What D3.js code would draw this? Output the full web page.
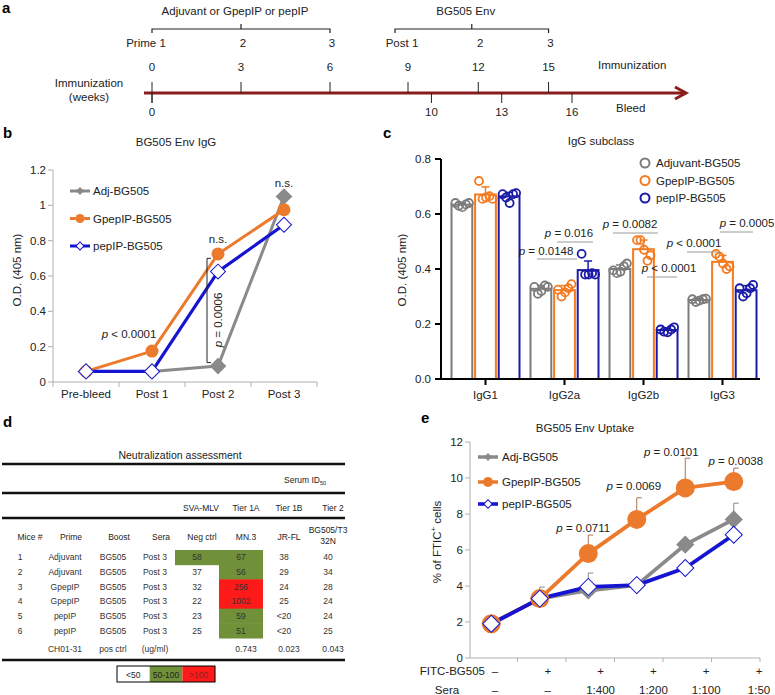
<!DOCTYPE html>
<html><head><meta charset="utf-8">
<script src="https://cdn.jsdelivr.net/npm/d3@7"></script>
<style>body{margin:0;background:#fff}svg{font-family:"Liberation Sans",Arial,Helvetica,sans-serif}</style>
</head><body><svg id="fig" width="775" height="695"></svg>
<script>
// ---------- Panel a data ----------
const immWeeks = [0, 3, 6, 9, 12, 15];
const bleedWeeks = [0, 10, 13, 16];
const primeLabels = ["Prime 1", "2", "3"];
const postLabels = ["Post 1", "2", "3"];
// ---------- Panel b data ----------
const bCats = ["Pre-bleed", "Post 1", "Post 2", "Post 3"];
const bSeries = ["Adj-BG505", "GpepIP-BG505", "pepIP-BG505"];
const bAdj = [0.06, 0.06, 0.09, 1.05];
const bGpep = [0.06, 0.175, 0.725, 0.975];
const bPep = [0.06, 0.06, 0.625, 0.89];
const bTicks = [0, 0.2, 0.4, 0.6, 0.8, 1, 1.2];
const bTickLabels = ["0", "0.2", "0.4", "0.6", "0.8", "1", "1.2"];
// ---------- Panel c data ----------
const cCats = ["IgG1", "IgG2a", "IgG2b", "IgG3"];
const cGroups = ["Adjuvant-BG505", "GpepIP-BG505", "pepIP-BG505"];
const cAdjPts = [[0.64,0.63,0.625,0.635,0.64],[0.335,0.31,0.32,0.34,0.335],[0.395,0.385,0.39,0.41,0.42],[0.29,0.28,0.285,0.29,0.292]];
const cGpepPts = [[0.72,0.655,0.66,0.665,0.655],[0.325,0.3,0.315,0.33,0.345],[0.505,0.505,0.47,0.43,0.45],[0.455,0.445,0.42,0.40,0.41]];
const cPepPts = [[0.672,0.66,0.64,0.672,0.676],[0.455,0.38,0.38,0.385,0.38],[0.18,0.172,0.17,0.18,0.188],[0.33,0.30,0.312,0.33,0.342]];
const cTicks = [0, 0.2, 0.4, 0.6, 0.8];
const cPvals = ["p = 0.016", "p = 0.0148", "p = 0.0082", "p < 0.0001", "p < 0.0001", "p = 0.0005"];
// ---------- Panel d data ----------
const dMice = ["1","2","3","4","5","6"];
const dPrime = ["Adjuvant","Adjuvant","GpepIP","GpepIP","pepIP","pepIP"];
const dBoost = ["BG505","BG505","BG505","BG505","BG505","BG505"];
const dSera = ["Post 3","Post 3","Post 3","Post 3","Post 3","Post 3"];
const dNeg = [58, 37, 32, 22, 23, 25];
const dMN3 = [67, 56, 256, 1002, 59, 51];
const dJRFL = ["38","29","24","25","<20","<20"];
const dTier2 = [40, 34, 28, 24, 24, 25];
const dPos = ["", "CH01-31", "pos ctrl", "(ug/ml)", "", "0.743", "0.023", "0.043"];
const dTiers = ["SVA-MLV", "Tier 1A", "Tier 1B", "Tier 2"];
const dHeaders = ["Mice #", "Prime", "Boost", "Sera", "Neg ctrl", "MN.3", "JR-FL", "BG505/T3|32N"];
const dLegend = ["<50", "50-100", ">100"];
// ---------- Panel e data ----------
const eSeries = ["Adj-BG505", "GpepIP-BG505", "pepIP-BG505"];
const eAdj = [1.9, 3.3, 3.75, 4.05, 6.3, 7.7];
const eGpep = [1.9, 3.3, 5.8, 7.7, 9.45, 9.8];
const ePep = [1.9, 3.3, 3.95, 4.05, 5.0, 6.85];
const eAdjErr = [0, 0.64, 0.97, 0, 0, 0.9];
const eGpepErr = [0, 0, 1.03, 1.2, 1.65, 0.75];
const ePvals = ["", "", "p = 0.0711", "p = 0.0069", "p = 0.0101", "p = 0.0038"];
const eFitc = ["\u2013", "+", "+", "+", "+", "+"];
const eSera = ["\u2013", "\u2013", "1:400", "1:200", "1:100", "1:50"];
const eTicks = [0, 2, 4, 6, 8, 10, 12];

// ---------- colours ----------
const GRAY = "#8a8a8a", ORANGE = "#ec7a2c", BLUE = "#1414d2";
const CGRAY = "#7c7c7c", CORANGE = "#f47b20", CBLUE = "#1a1aa8";
const AXG = "#b0b0b0";
const FS = 11.5;

const svg = d3.select("#fig");
const txt = (g, x, y, s, o = {}) => g.append("text").attr("x", x).attr("y", y)
  .attr("font-size", o.fs || FS).attr("text-anchor", o.anchor || "middle")
  .attr("fill", o.fill || "#222").attr("font-weight", o.fw || null).text(s);
function pText(g, x, y, s, anchor = "middle", fs = FS) {
  const t = g.append("text").attr("x", x).attr("y", y).attr("font-size", fs)
    .attr("text-anchor", anchor).attr("fill", "#222");
  t.append("tspan").attr("font-style", "italic").text(s.slice(0, 1));
  t.append("tspan").text(s.slice(1));
  return t;
}
const diamond = s => d3.symbol(d3.symbolSquare, s)();

// panel letters
[["a", 2, 13], ["b", 3, 138], ["c", 383, 138], ["d", 3, 427], ["e", 421, 423]].forEach(([l, x, y]) =>
  txt(svg, x, y, l, { fs: 15, fw: "bold", anchor: "start", fill: "#000" }));

// ================= Panel a =================
(function () {
  const g = svg.append("g");
  const x = d3.scaleLinear().domain([0, 6, 9, 16]).range([152, 330, 408, 572]);
  const lineY = 93, red = "#8b1c1c";
  g.append("line").attr("x1", 144).attr("x2", 683).attr("y1", lineY).attr("y2", lineY)
    .attr("stroke", red).attr("stroke-width", 3);
  g.append("path").attr("d", `M675,87 L686,${lineY} L675,99`).attr("fill", "none")
    .attr("stroke", red).attr("stroke-width", 3).attr("stroke-linejoin", "miter");
  immWeeks.forEach(w => {
    g.append("line").attr("x1", x(w)).attr("x2", x(w)).attr("y1", 82).attr("y2", w === 0 ? 103 : lineY)
      .attr("stroke", "#222").attr("stroke-width", 1);
    txt(g, x(w), 71, w);
  });
  bleedWeeks.forEach(w => {
    g.append("line").attr("x1", x(w)).attr("x2", x(w)).attr("y1", lineY).attr("y2", 103)
      .attr("stroke", "#222").attr("stroke-width", 1);
    txt(g, x(w), 116, w);
  });
  txt(g, 89, 87, "Immunization");
  txt(g, 89, 101, "(weeks)");
  txt(g, 598, 69, "Immunization", { anchor: "start" });
  txt(g, 616, 112, "Bleed", { anchor: "start" });
  // brackets
  function bracket(x1, x2, label, labels, weeks) {
    const xm = (x1 + x2) / 2;
    g.append("path").attr("d", `M${x1},33 L${x1},29 L${x2},29 L${x2},33 M${xm},29 L${xm},24`)
      .attr("fill", "none").attr("stroke", "#222").attr("stroke-width", 1.2);
    txt(g, xm - 6, 15, label);
    labels.forEach((l, i) => txt(g, x(weeks[i]) + (i === 0 ? -6 : 2), 47, l));
  }
  bracket(x(0), x(6), "Adjuvant or GpepIP or pepIP", primeLabels, [0, 3, 6]);
  bracket(x(9) - 13, x(15), "BG505 Env", postLabels, [9, 12, 15]);
})();

// ================= Panel b =================
(function () {
  const g = svg.append("g");
  const x = d3.scaleBand().domain(bCats).range([53, 317]);
  const y = d3.scaleLinear().domain([0, 1.2]).range([382, 170]);
  txt(g, 176, 146, "BG505 Env IgG");
  // axes
  g.append("line").attr("x1", 53).attr("x2", 53).attr("y1", y(1.2)).attr("y2", y(0)).attr("stroke", AXG);
  g.append("line").attr("x1", 53).attr("x2", 317).attr("y1", y(0)).attr("y2", y(0)).attr("stroke", AXG);
  bTicks.forEach((t, i) => {
    g.append("line").attr("x1", 48).attr("x2", 53).attr("y1", y(t)).attr("y2", y(t)).attr("stroke", AXG);
    txt(g, 46, y(t) + 4, bTickLabels[i], { anchor: "end" });
  });
  bCats.forEach(c => {
    g.append("line").attr("x1", x(c) + x.bandwidth()).attr("x2", x(c) + x.bandwidth())
      .attr("y1", y(0)).attr("y2", y(0) + 5).attr("stroke", AXG);
    txt(g, x(c) + x.bandwidth() / 2, 398, c);
  });
  g.append("line").attr("x1", 53).attr("x2", 53).attr("y1", y(0)).attr("y2", y(0) + 5).attr("stroke", AXG);
  txt(g, 0, 0, "O.D. (405 nm)").attr("transform", "translate(21,270) rotate(-90)").attr("x", null).attr("y", null);
  const cx = c => x(c) + x.bandwidth() / 2;
  const line = d3.line().x((d, i) => cx(bCats[i])).y(d => y(d));
  const series = [
    { v: bAdj, col: GRAY, w: 3 }, { v: bGpep, col: ORANGE, w: 3 }, { v: bPep, col: BLUE, w: 3.2 }];
  series.forEach(s => g.append("path").attr("d", line(s.v)).attr("fill", "none")
    .attr("stroke", s.col).attr("stroke-width", s.w).attr("stroke-linejoin", "round"));
  bAdj.forEach((v, i) => g.append("path").attr("d", diamond(140))
    .attr("transform", `translate(${cx(bCats[i])},${y(v)}) rotate(45)`).attr("fill", GRAY));
  bGpep.forEach((v, i) => g.append("circle").attr("cx", cx(bCats[i])).attr("cy", y(v)).attr("r", 6.5).attr("fill", ORANGE));
  bPep.forEach((v, i) => g.append("path").attr("d", diamond(112))
    .attr("transform", `translate(${cx(bCats[i])},${y(v)}) rotate(45)`).attr("fill", "#fff")
    .attr("stroke", BLUE).attr("stroke-width", 1));
  // legend
  const lg = [[GRAY, "d"], [ORANGE, "c"], [BLUE, "w"]];
  bSeries.forEach((s, i) => {
    const ly = 191 + i * 27.5;
    g.append("line").attr("x1", 70).attr("x2", 90).attr("y1", ly).attr("y2", ly)
      .attr("stroke", lg[i][0]).attr("stroke-width", 3);
    if (lg[i][1] === "d") g.append("path").attr("d", diamond(32)).attr("transform", `translate(80,${ly}) rotate(45)`).attr("fill", GRAY);
    if (lg[i][1] === "c") g.append("circle").attr("cx", 80).attr("cy", ly).attr("r", 4.5).attr("fill", ORANGE);
    if (lg[i][1] === "w") g.append("path").attr("d", diamond(32)).attr("transform", `translate(80,${ly}) rotate(45)`)
      .attr("fill", "#fff").attr("stroke", BLUE).attr("stroke-width", 1);
    txt(g, 93, ly + 4, s, { anchor: "start" });
  });
  // annotations
  txt(g, cx("Post 3"), 187, "n.s.");
  txt(g, cx("Post 2"), 243, "n.s.");
  pText(g, cx("Post 1") - 23, 338, "p < 0.0001");
  const bx = cx("Post 2") - 11;
  g.append("path").attr("d", `M${bx + 4},${y(0.7)} L${bx},${y(0.7)} L${bx},${y(0.11)} L${bx + 4},${y(0.11)}`)
    .attr("fill", "none").attr("stroke", "#222").attr("stroke-width", 1);
  pText(g, 0, 0, "p = 0.0006").attr("x", null).attr("y", null)
    .attr("transform", `translate(${cx("Post 2") + 4},320) rotate(-90)`);
})();

// ================= Panel c =================
(function () {
  const g = svg.append("g");
  const x = d3.scaleBand().domain(cCats).range([446, 762]);
  const sub = d3.scaleBand().domain(cGroups).range([-34, 34]).paddingInner(0.12);
  const y = d3.scaleLinear().domain([0, 0.8]).range([379, 159]);
  txt(g, 601, 145, "IgG subclass");
  const groups = [{ pts: cAdjPts, col: CGRAY }, { pts: cGpepPts, col: CORANGE }, { pts: cPepPts, col: CBLUE }];
  const jit = [-6.5, -3, 0.5, 4, 7];
  cCats.forEach((c, ci) => {
    const xc = x(c) + x.bandwidth() / 2;
    groups.forEach((gr, gi) => {
      const pts = gr.pts[ci];
      const m = d3.mean(pts), sd = d3.deviation(pts);
      const bx = xc + sub(cGroups[gi]);
      const bw = sub.bandwidth();
      g.append("rect").attr("x", bx).attr("y", y(m)).attr("width", bw).attr("height", y(0) - y(m))
        .attr("fill", "#fff").attr("stroke", gr.col).attr("stroke-width", 2);
      g.append("line").attr("x1", bx + bw / 2).attr("x2", bx + bw / 2).attr("y1", y(m)).attr("y2", y(m + sd))
        .attr("stroke", gr.col).attr("stroke-width", 1.5);
      g.append("line").attr("x1", bx + bw / 2 - 4).attr("x2", bx + bw / 2 + 4).attr("y1", y(m + sd)).attr("y2", y(m + sd))
        .attr("stroke", gr.col).attr("stroke-width", 1.5);
      pts.forEach((p, pi) => g.append("circle").attr("cx", bx + bw / 2 + jit[pi]).attr("cy", y(p)).attr("r", 4)
        .attr("fill", "none").attr("stroke", gr.col).attr("stroke-width", 1.8));
    });
  });
  // axes
  g.append("line").attr("x1", 441).attr("x2", 441).attr("y1", y(0.8)).attr("y2", y(0)).attr("stroke", "#000").attr("stroke-width", 2);
  g.append("line").attr("x1", 440).attr("x2", 760).attr("y1", y(0)).attr("y2", y(0)).attr("stroke", "#000").attr("stroke-width", 2);
  cTicks.forEach(t => {
    g.append("line").attr("x1", 435).attr("x2", 441).attr("y1", y(t)).attr("y2", y(t)).attr("stroke", "#000").attr("stroke-width", 2);
    txt(g, 431, y(t) + 4, d3.format(".1f")(t), { anchor: "end" });
  });
  cCats.forEach(c => {
    const xc = x(c) + x.bandwidth() / 2;
    g.append("line").attr("x1", xc).attr("x2", xc).attr("y1", y(0)).attr("y2", y(0) + 6).attr("stroke", "#000").attr("stroke-width", 2);
    txt(g, xc, 399, c);
  });
  txt(g, 0, 0, "O.D. (405 nm)").attr("x", null).attr("y", null).attr("transform", "translate(406,270) rotate(-90)");
  // legend
  cGroups.forEach((s, i) => {
    const ly = 163 + i * 17.5;
    g.append("circle").attr("cx", 645).attr("cy", ly).attr("r", 4.5).attr("fill", "none")
      .attr("stroke", groups[i].col).attr("stroke-width", 2);
    txt(g, 656, ly + 4, s, { anchor: "start" });
  });
  // p-values: [text x center, baseline, line x1, x2, line y]
  const pl = [[569, 237, 557, 593, 242], [546, 255, 537, 577, 259], [630, 228, 613, 658, 233],
              [669, 272, 647, 677, 277], [694, 247, 687, 718, 252], [747, 227, 720, 753, 232]];
  cPvals.forEach((p, i) => {
    const [tx, ty, x1, x2, ly] = pl[i];
    g.append("line").attr("x1", x1).attr("x2", x2).attr("y1", ly).attr("y2", ly).attr("stroke", "#999").attr("stroke-width", 1);
    pText(g, tx, ty, p);
  });
})();

// ================= Panel d =================
(function () {
  const g = svg.append("g");
  const FSD = 8.5;
  const cols = [20, 65, 113, 155, 197, 241, 284, 328];
  txt(g, 180, 459, "Neutralization assessment", { fs: 10.5 });
  [464, 493, 518, 660].forEach(yy => g.append("line").attr("x1", 2).attr("x2", 345).attr("y1", yy).attr("y2", yy)
    .attr("stroke", "#111").attr("stroke-width", 2.5));
  const sid = g.append("text").attr("x", 305).attr("y", 483).attr("font-size", FSD).attr("text-anchor", "middle").attr("fill", "#222");
  sid.append("tspan").text("Serum ID");
  sid.append("tspan").attr("font-size", 5.5).attr("dy", 2).text("50");
  dTiers.forEach((t, i) => txt(g, cols[i + 4] + (i === 0 ? 4 : 5), 511, t, { fs: FSD }));
  dHeaders.forEach((h, i) => {
    const parts = h.split("|");
    if (parts.length === 1) txt(g, cols[i] + (i === 0 ? 10 : i < 4 ? 6 : 5), 540, h, { fs: FSD });
    else { txt(g, cols[i], 533, parts[0], { fs: FSD }); txt(g, cols[i], 544, parts[1], { fs: FSD }); }
  });
  const rowY = d3.scaleBand().domain(dMice).range([550, 638]);
  const colW = 44;
  const fillFor = v => (typeof v === "number" && v >= 50) ? (v > 100 ? "#ff1a1a" : "#71903a") : null;
  dMice.forEach((m, r) => {
    const yy = rowY(m), h = rowY.bandwidth(), yc = yy + h / 2 + 3;
    const vals = [m, dPrime[r], dBoost[r], dSera[r], dNeg[r], dMN3[r], dJRFL[r], dTier2[r]];
    vals.forEach((v, c) => {
      const f = fillFor(v);
      if (c >= 4 && f) g.append("rect").attr("x", cols[c] - colW / 2).attr("y", yy).attr("width", colW).attr("height", h + 0.5).attr("fill", f);
    });
    vals.forEach((v, c) => txt(g, cols[c], yc, v, { fs: FSD, fill: "#333" }));
  });
  dPos.forEach((v, c) => { if (v) txt(g, cols[c] + (c >= 5 ? 5 : 0), 652, v, { fs: FSD, fill: "#333" }); });
  // legend
  const lfill = ["#fff", "#71903a", "#ff1a1a"];
  dLegend.forEach((l, i) => {
    g.append("rect").attr("x", 117 + i * 32.7).attr("y", 666).attr("width", 32.7).attr("height", 16).attr("fill", lfill[i]);
    txt(g, 117 + i * 32.7 + 16.3, 677.5, l, { fs: 8.5, fill: i === 2 ? "#822" : "#222" });
  });
  g.append("rect").attr("x", 117).attr("y", 666).attr("width", 98).attr("height", 16).attr("fill", "none").attr("stroke", "#000").attr("stroke-width", 1);
})();

// ================= Panel e =================
(function () {
  const g = svg.append("g");
  const idx = d3.range(eAdj.length);
  const x = d3.scaleBand().domain(idx).range([467, 758]);
  const y = d3.scaleLinear().domain([0, 12]).range([658, 442]);
  const cx = i => x(i) + x.bandwidth() / 2;
  txt(g, 585, 432, "BG505 Env Uptake");
  g.append("line").attr("x1", 470).attr("x2", 470).attr("y1", y(12)).attr("y2", y(0)).attr("stroke", AXG);
  g.append("line").attr("x1", 470).attr("x2", 760).attr("y1", y(0)).attr("y2", y(0)).attr("stroke", AXG);
  eTicks.forEach(t => {
    g.append("line").attr("x1", 465).attr("x2", 470).attr("y1", y(t)).attr("y2", y(t)).attr("stroke", AXG);
    txt(g, 463, y(t) + 4, t, { anchor: "end" });
  });
  idx.forEach(i => g.append("line").attr("x1", x(i) + x.bandwidth() + 2).attr("x2", x(i) + x.bandwidth() + 2)
    .attr("y1", y(0)).attr("y2", y(0) + 4).attr("stroke", AXG));
  const yl = g.append("text").attr("font-size", FS).attr("text-anchor", "middle").attr("fill", "#222")
    .attr("transform", "translate(441,542) rotate(-90)");
  yl.append("tspan").text("% of FTIC");
  yl.append("tspan").attr("font-size", 8).attr("dy", -5).text("+");
  yl.append("tspan").attr("dy", 5).text(" cells");
  // row labels
  const lx = d3.scalePoint().domain(idx).range([495, 759]);
  txt(g, 485, 675, "FITC-BG505", { anchor: "end" });
  txt(g, 447, 694, "Sera");
  idx.forEach(i => { txt(g, lx(i), 675, eFitc[i]); txt(g, lx(i), 694, eSera[i]); });
  // error bars
  function errs(vals, e, col) {
    vals.forEach((v, i) => {
      if (!e[i]) return;
      g.append("line").attr("x1", cx(i)).attr("x2", cx(i)).attr("y1", y(v)).attr("y2", y(v + e[i])).attr("stroke", col).attr("stroke-width", 1);
      g.append("line").attr("x1", cx(i)).attr("x2", cx(i) + 5).attr("y1", y(v + e[i])).attr("y2", y(v + e[i])).attr("stroke", col).attr("stroke-width", 1);
    });
  }
  errs(eAdj, eAdjErr, "#888");
  errs(eGpep, eGpepErr, "#b07050");
  const line = d3.line().x((d, i) => cx(i)).y(d => y(d));
  [[eAdj, GRAY], [eGpep, ORANGE], [ePep, BLUE]].forEach(([v, c]) =>
    g.append("path").attr("d", line(v)).attr("fill", "none").attr("stroke", c).attr("stroke-width", 3.8).attr("stroke-linejoin", "round"));
  eAdj.forEach((v, i) => g.append("path").attr("d", diamond(165)).attr("transform", `translate(${cx(i)},${y(v)}) rotate(45)`).attr("fill", GRAY));
  eGpep.forEach((v, i) => g.append("circle").attr("cx", cx(i)).attr("cy", y(v)).attr("r", 9.5).attr("fill", ORANGE));
  ePep.forEach((v, i) => g.append("path").attr("d", diamond(145)).attr("transform", `translate(${cx(i)},${y(v)}) rotate(45)`)
    .attr("fill", "#fff").attr("stroke", BLUE).attr("stroke-width", 1));
  // p values
  const pdx = [0, 0, -5, -3, -14, 2], pdy = [0, 0, -3, -8, -2, -3];
  ePvals.forEach((p, i) => { if (p) pText(g, cx(i) + pdx[i], y(eGpep[i] + eGpepErr[i]) + pdy[i], p); });
  // legend
  const marks = ["d", "c", "w"], cols = [GRAY, ORANGE, BLUE];
  eSeries.forEach((s, i) => {
    const ly = [457, 482, 504][i];
    g.append("line").attr("x1", 478).attr("x2", 498).attr("y1", ly).attr("y2", ly).attr("stroke", cols[i]).attr("stroke-width", 3.5);
    if (marks[i] === "d") g.append("path").attr("d", diamond(32)).attr("transform", `translate(488,${ly}) rotate(45)`).attr("fill", GRAY);
    if (marks[i] === "c") g.append("circle").attr("cx", 488).attr("cy", ly).attr("r", 5).attr("fill", ORANGE);
    if (marks[i] === "w") g.append("path").attr("d", diamond(36)).attr("transform", `translate(488,${ly}) rotate(45)`)
      .attr("fill", "#fff").attr("stroke", BLUE).attr("stroke-width", 1);
    txt(g, 502, ly + 4, s, { anchor: "start" });
  });
})();
</script></body></html>
